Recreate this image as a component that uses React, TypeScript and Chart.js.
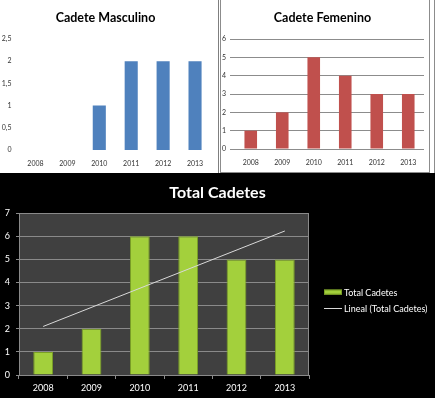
import React, { useEffect, useRef } from "react";
import { Chart, registerables } from "chart.js";

Chart.register(...registerables);

const years = ["2008", "2009", "2010", "2011", "2012", "2013"];
const masculino = [0, 0, 1, 2, 2, 2];
const femenino = [1, 2, 5, 4, 3, 3];
const total = [1, 2, 6, 6, 5, 5];
// trend line endpoints
const tendencia = [2.1, null, null, null, null, 6.23];

const titleMasc = "Cadete Masculino";
const titleFem = "Cadete Femenino";
const titleTotal = "Total Cadetes";
const labelTotal = "Total Cadetes";
const labelTrend = "Lineal (Total Cadetes)";

const TITLE_FONT = "'Lato', sans-serif";
const BODY_FONT = "'Lato', 'Liberation Sans', sans-serif";

const fmtComma = (v: any) => String(v).replace(".", ",");

const plotBg = {
  id: "plotBg",
  beforeDraw(chart: any, _a: any, opts: any) {
    if (!opts || !opts.color) return;
    const { ctx, chartArea } = chart;
    ctx.save();
    ctx.fillStyle = opts.color;
    ctx.fillRect(chartArea.left, chartArea.top, chartArea.width, chartArea.height);
    ctx.restore();
  },
  beforeDatasetsDraw(chart: any, _a: any, opts: any) {
    if (!opts || !opts.border) return;
    const { ctx, chartArea } = chart;
    ctx.save();
    ctx.strokeStyle = opts.border;
    ctx.lineWidth = 1;
    ctx.strokeRect(Math.round(chartArea.left) + 0.5, Math.round(chartArea.top) + 0.5,
      Math.round(chartArea.width) - 1, Math.round(chartArea.height));
    ctx.restore();
  },
};

const sideLegend = {
  id: "sideLegend",
  afterDraw(chart: any, _a: any, opts: any) {
    if (!opts || !opts.display) return;
    const { ctx, chartArea } = chart;
    const x0 = chartArea.right + 15;
    const cy = (chartArea.top + chartArea.bottom) / 2 - 2;
    ctx.save();
    ctx.font = `9px ${BODY_FONT}`;
    ctx.textBaseline = "middle";
    ctx.fillStyle = "#ffffff";
    chart.data.datasets.forEach((ds: any, i: number) => {
      const y = cy + i * 16;
      if (ds.type === "line") {
        ctx.strokeStyle = ds.borderColor;
        ctx.lineWidth = 1;
        ctx.beginPath();
        ctx.moveTo(x0, Math.round(y) + 0.5);
        ctx.lineTo(x0 + 18, Math.round(y) + 0.5);
        ctx.stroke();
      } else {
        ctx.fillStyle = ds.backgroundColor;
        ctx.fillRect(x0, y - 2.5, 18, 5);
        ctx.strokeStyle = ds.borderColor;
        ctx.lineWidth = 1;
        ctx.strokeRect(x0 + 0.5, y - 2, 17, 4);
      }
      ctx.fillStyle = "#ffffff";
      ctx.fillText(ds.label, x0 + 20, y + 0.5);
    });
    ctx.restore();
  },
};

function useChart(ref: React.RefObject<HTMLCanvasElement | null>, make: () => any) {
  useEffect(() => {
    if (!ref.current) return;
    const c = new Chart(ref.current, make());
    return () => c.destroy();
  }, []);
}

function smallTickFont() {
  return { family: BODY_FONT, size: 7 };
}

export default function App() {
  const c1 = useRef<HTMLCanvasElement>(null);
  const c2 = useRef<HTMLCanvasElement>(null);
  const c3 = useRef<HTMLCanvasElement>(null);

  useChart(c1, () => ({
    type: "bar",
    data: {
      labels: years,
      datasets: [
        {
          label: titleMasc,
          data: masculino,
          backgroundColor: "#4F81BD",
          borderWidth: 0,
          categoryPercentage: 1,
          barPercentage: 0.41,
        },
      ],
    },
    options: {
      animation: false,
      responsive: false,
      layout: { padding: { left: 0, right: 7, top: 0, bottom: 0 } },
      plugins: {
        legend: { display: false },
        tooltip: { enabled: false },
        title: {
          display: true,
          text: titleMasc,
          color: "#000000",
          font: { family: TITLE_FONT, size: 12.5, weight: "bold", lineHeight: 1.2 },
          padding: { top: 10, bottom: 14 },
        },
      },
      scales: {
        x: {
          grid: { display: false, drawTicks: false },
          border: { display: false },
          ticks: { font: smallTickFont(), color: "#333333", padding: 10, maxRotation: 0 },
          afterFit: (s: any) => { s.height = 22; },
        },
        y: {
          min: 0,
          max: 2.5,
          grid: { display: false, drawTicks: false },
          border: { display: false },
          ticks: { stepSize: 0.5, font: smallTickFont(), color: "#333333", padding: 8, callback: fmtComma },
          afterFit: (s: any) => { s.width = 19.5; },
        },
      },
    },
  }));

  useChart(c2, () => ({
    type: "bar",
    data: {
      labels: years,
      datasets: [
        {
          label: titleFem,
          data: femenino,
          backgroundColor: "#C0504D",
          borderWidth: 0,
          categoryPercentage: 1,
          barPercentage: 0.4,
        },
      ],
    },
    options: {
      animation: false,
      responsive: false,
      layout: { padding: { left: 0, right: 5, top: 0, bottom: 0 } },
      plugins: {
        legend: { display: false },
        tooltip: { enabled: false },
        title: {
          display: true,
          text: titleFem,
          color: "#000000",
          font: { family: TITLE_FONT, size: 12.5, weight: "bold", lineHeight: 1.2 },
          padding: { top: 10, bottom: 14 },
        },
      },
      scales: {
        x: {
          grid: { display: false, drawTicks: false },
          border: { display: false },
          ticks: { font: smallTickFont(), color: "#333333", padding: 10, maxRotation: 0 },
          afterFit: (s: any) => { s.height = 23; },
        },
        y: {
          min: 0,
          max: 6,
          grid: { color: "#8c8c8c", drawTicks: true, tickLength: 5, tickColor: "#8c8c8c" },
          border: { display: false },
          ticks: { stepSize: 1, font: smallTickFont(), color: "#333333", padding: 4 },
          afterFit: (s: any) => { s.width = 14; },
        },
      },
    },
  }));

  useChart(c3, () => ({
    type: "bar",
    data: {
      labels: years,
      datasets: [
        {
          type: "bar",
          label: labelTotal,
          data: total,
          backgroundColor: "#a3d03c",
          borderColor: "#7a9f25",
          borderWidth: 1,
          categoryPercentage: 1,
          barPercentage: 0.41,
          order: 2,
        },
        {
          type: "line",
          label: labelTrend,
          data: tendencia,
          spanGaps: true,
          borderColor: "#d9d9d9",
          borderWidth: 1,
          pointRadius: 0,
          fill: false,
          order: 1,
        },
      ],
    },
    plugins: [plotBg, sideLegend],
    options: {
      animation: false,
      responsive: false,
      layout: { padding: { left: 0, right: 0, top: 0, bottom: 0 } },
      plugins: {
        legend: { display: false },
        tooltip: { enabled: false },
        plotBg: { color: "#404040", border: "#8a8a8a" },
        sideLegend: { display: true },
        title: {
          display: true,
          text: titleTotal,
          color: "#ffffff",
          font: { family: BODY_FONT, size: 16, weight: "bold", lineHeight: 1.2 },
          padding: { top: 10, bottom: 11 },
        },
      },
      scales: {
        x: {
          grid: { display: true, drawOnChartArea: false, tickLength: 4, color: "#8a8a8a" },
          border: { display: false },
          ticks: { font: { family: BODY_FONT, size: 9 }, color: "#ffffff", padding: 4, maxRotation: 0 },
          afterFit: (s: any) => { s.height = 23; },
        },
        y: {
          min: 0,
          max: 7,
          grid: { color: "#8a8a8a", tickLength: 3, tickColor: "#8a8a8a" },
          border: { display: false },
          ticks: { stepSize: 1, font: { family: BODY_FONT, size: 9 }, color: "#ffffff", padding: 6 },
          afterFit: (s: any) => { s.width = 19; },
        },
        legendSpace: {
          type: "linear",
          position: "right",
          display: true,
          grid: { display: false, drawTicks: false },
          border: { display: false },
          ticks: { display: false },
          afterFit: (s: any) => { s.width = 126; },
        },
      },
    },
  }));

  return (
    <div style={{ position: "fixed", left: 0, top: 0, width: 435, height: 398, background: "#ffffff", overflow: "hidden" }}>
      <div style={{ position: "absolute", left: 0, top: 0, width: 218, height: 173, borderRight: "1px solid #7f7f7f", background: "#fff" }}>
        <canvas ref={c1} width={218} height={172} style={{ position: "absolute", left: 0, top: 0, width: 218, height: 172 }} />
      </div>
      <div style={{ position: "absolute", left: 220, top: 0, width: 208, height: 172, borderLeft: "1px solid #8c8c8c", borderRight: "1px solid #8c8c8c", borderBottom: "1px solid #8c8c8c", background: "#fff" }}>
        <canvas ref={c2} width={208} height={172} style={{ position: "absolute", left: 0, top: 0, width: 208, height: 172 }} />
      </div>
      <div style={{ position: "absolute", left: 434, top: 0, width: 1, height: 173, background: "#8c8c8c" }} />
      <div style={{ position: "absolute", left: 0, top: 173, width: 435, height: 225, background: "#000000" }}>
        <canvas ref={c3} width={435} height={225} style={{ position: "absolute", left: 0, top: 0, width: 435, height: 225 }} />
      </div>
    </div>
  );
}
